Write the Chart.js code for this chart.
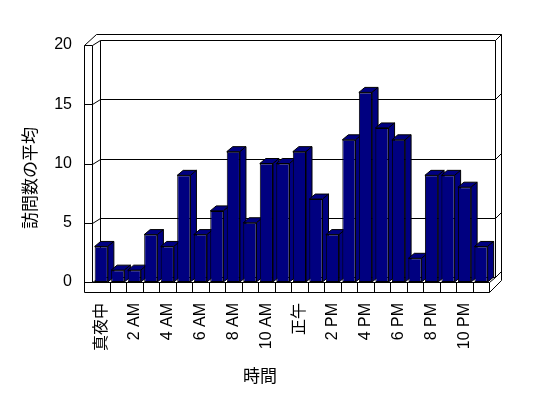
<!DOCTYPE html>
<html><head><meta charset="utf-8">
<script src="https://cdn.jsdelivr.net/npm/chart.js@4/dist/chart.umd.min.js"></script>
<style>html,body{margin:0;padding:0;background:#fff;}#wrap{width:548px;height:398px;position:relative;}</style>
</head><body><div id="wrap"><canvas id="c"></canvas></div>
<script>
const hours = ['真夜中','1 AM','2 AM','3 AM','4 AM','5 AM','6 AM','7 AM','8 AM','9 AM','10 AM','11 AM',
               '正午','1 PM','2 PM','3 PM','4 PM','5 PM','6 PM','7 PM','8 PM','9 PM','10 PM','11 PM'];
const visits = [3,1,1,4,3,9,4,6,11,5,10,10,11,7,4,12,16,13,12,2,9,9,8,3];
const yTickMin = 0, yTickMax = 20, yTickStep = 5;
const yTitle = '訪問数の平均';
const xTitle = '時間';

const NAVY = '#000080';
const FONT = '"Liberation Sans","Noto Sans CJK JP",sans-serif';
const CJK = '"Noto Sans CJK JP",sans-serif';

function line(ctx, x1, y1, x2, y2) {
  ctx.beginPath();
  ctx.moveTo(Math.round(x1) + 0.5, Math.round(y1) + 0.5);
  ctx.lineTo(Math.round(x2) + 0.5, Math.round(y2) + 0.5);
  ctx.stroke();
}

const frame3d = {
  id: 'frame3d',
  beforeDatasetsDraw(chart) {
    const ctx = chart.ctx, a = chart.chartArea, x = chart.scales.x, y = chart.scales.y;
    const L = a.left, R = a.right;
    const B = y.getPixelForValue(yTickMin), T = y.getPixelForValue(yTickMax);
    const xo = L - 9, xi = L - 1, xb = L + 7, xr = R + 6, xro = R + 12, DY = 5;
    ctx.save();
    ctx.strokeStyle = '#000'; ctx.lineWidth = 1;
    // left wall
    line(ctx, xo, T, xo, B + 10);
    line(ctx, xi, T, xi, B);
    line(ctx, xo, T, xi, T);
    line(ctx, xo, T, xo + 12, T - 11);
    line(ctx, xi, T, xb, T - DY);
    // outer top + right
    line(ctx, xo + 12, T - 11, xro, T - 11);
    line(ctx, xro, T - 11, xro, B - 2);
    line(ctx, xr, T - DY, xro, T - 11);
    // back wall inner
    line(ctx, xb, T - DY, xr, T - DY);
    line(ctx, xb, T - DY, xb, B - DY);
    line(ctx, xr, T - DY, xr, B - DY);
    // gridlines
    for (let v = yTickMin; v < yTickMax; v += yTickStep) {
      const yf = y.getPixelForValue(v);
      line(ctx, xo, yf, xi, yf);
      line(ctx, xi, yf, xb, yf - DY);
      line(ctx, xb, yf - DY, xr, yf - DY);
      line(ctx, xr, yf - DY, xro, yf - DY - 6);
    }
    // floor
    line(ctx, xi, B, R, B);
    line(ctx, xo, B + 10, R, B + 10);
    line(ctx, R, B, R, B + 10);
    for (let i = 1; i < hours.length; i++) {
      const bx = (x.getPixelForValue(i - 1) + x.getPixelForValue(i)) / 2;
      line(ctx, bx, B, bx, B + 10);
    }
    line(ctx, R, B + 10, xro, B - 2);
    line(ctx, R, B, xr, B - DY);
    // bar sides and tops
    const BDX = 6, BDY = 5;
    const meta = chart.getDatasetMeta(0);
    ctx.fillStyle = NAVY;
    meta.data.forEach(el => {
      const p = el.getProps(['x', 'y', 'base', 'width'], true);
      const x0 = p.x - p.width / 2, x1 = p.x + p.width / 2, yt = p.y, yb = p.base;
      ctx.beginPath();
      ctx.moveTo(x0, yt); ctx.lineTo(x1, yt); ctx.lineTo(x1 + BDX, yt - BDY); ctx.lineTo(x0 + BDX, yt - BDY); ctx.closePath();
      ctx.fill(); ctx.stroke();
      ctx.beginPath();
      ctx.moveTo(x1, yt); ctx.lineTo(x1 + BDX, yt - BDY); ctx.lineTo(x1 + BDX, yb - BDY); ctx.lineTo(x1, yb); ctx.closePath();
      ctx.fill(); ctx.stroke();
    });
    ctx.restore();
  },
  afterDraw(chart) {
    const ctx = chart.ctx;
    ctx.save();
    ctx.fillStyle = '#000';
    ctx.font = '17px ' + CJK;
    ctx.textAlign = 'center'; ctx.textBaseline = 'middle';
    ctx.fillText(xTitle, 260, 376);
    ctx.translate(30, 178);
    ctx.rotate(-Math.PI / 2);
    ctx.fillText(yTitle, 0, 0);
    ctx.restore();
  }
};

new Chart(document.getElementById('c'), {
  type: 'bar',
  data: {
    labels: hours,
    datasets: [{
      data: visits,
      backgroundColor: NAVY,
      borderColor: '#000',
      borderWidth: 1,
      borderSkipped: false,
      barPercentage: 0.8,
      categoryPercentage: 1
    }]
  },
  options: {
    responsive: true,
    maintainAspectRatio: false,
    animation: false,
    events: [],
    layout: { padding: { left: 0, top: 45, right: 58.7, bottom: 0 } },
    plugins: { legend: { display: false }, tooltip: { enabled: false } },
    scales: {
      x: {
        grid: { display: false, drawTicks: false },
        border: { display: false },
        ticks: {
          autoSkip: false, maxRotation: 90, minRotation: 90, padding: 21,
          color: '#000', font: { family: FONT, size: 16 },
          callback: (v, i) => (i % 2 === 0 ? hours[i] : '')
        },
        afterFit: s => { s.height = 116; }
      },
      y: {
        min: yTickMin, max: yTickMax,
        grid: { display: false, drawTicks: false },
        border: { display: false },
        ticks: { stepSize: yTickStep, padding: 21, color: '#000', font: { family: FONT, size: 16 } },
        afterFit: s => { s.width = 93; }
      }
    }
  },
  plugins: [frame3d]
});
</script></body></html>
